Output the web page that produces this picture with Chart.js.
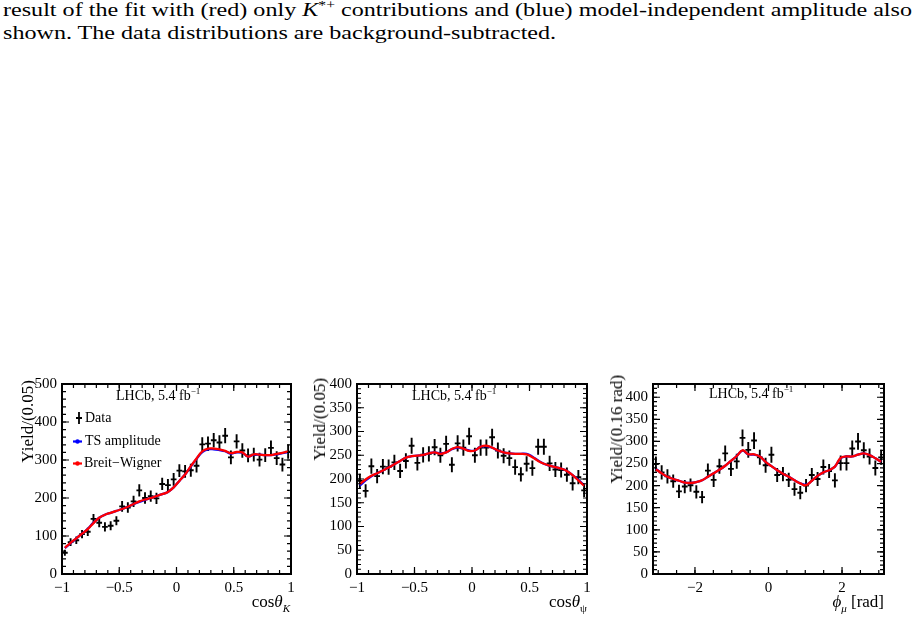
<!DOCTYPE html>
<html><head><meta charset="utf-8">
<script src="https://cdn.jsdelivr.net/npm/chart.js@4.4.1/dist/chart.umd.min.js"></script>
<style>
html,body{margin:0;padding:0;background:#fff;}
body{width:914px;height:621px;position:relative;overflow:hidden;font-family:"Liberation Serif","Times New Roman",serif;color:#000;}
.cap{position:absolute;left:3px;white-space:nowrap;font-family:"Liberation Serif",serif;font-weight:normal;font-size:18.5px;line-height:23px;transform-origin:0 0;}
canvas.pan{position:absolute;}
.lbl{position:absolute;white-space:nowrap;font-family:"Liberation Serif",serif;}
.lhcb{font-size:14px;line-height:15px;}
.lhcb sup{font-size:9px;vertical-align:0;position:relative;top:-6px;}
.leg{font-size:14px;line-height:16px;}
.yt{position:absolute;white-space:nowrap;font-family:"Liberation Serif",serif;font-weight:normal;font-size:17px;line-height:20px;writing-mode:vertical-rl;transform:rotate(180deg);}
.xt{position:absolute;white-space:nowrap;font-family:"Liberation Serif",serif;font-size:17px;line-height:20px;text-align:right;}
.xt sub{font-size:11px;vertical-align:0;position:relative;top:5px;}
.cap sup{font-size:12px;vertical-align:0;position:relative;top:-7px;}
</style>
</head>
<body>
<div class="cap" id="cap1" style="top:-1px">result of the fit with (red) only <i>K</i><sup>*+</sup> contributions and (blue) model-independent amplitude also</div>
<div class="cap" id="cap2" style="top:22px">shown. The data distributions are background-subtracted.</div>

<canvas class="pan" id="c1" width="300" height="251" style="left:0px;top:370px"></canvas>
<canvas class="pan" id="c2" width="300" height="251" style="left:300px;top:370px"></canvas>
<canvas class="pan" id="c3" width="314" height="251" style="left:600px;top:370px"></canvas>

<div class="lbl lhcb" style="left:116px;top:388px">LHCb, 5.4 fb<sup>−1</sup></div>
<div class="lbl lhcb" style="left:412px;top:388px">LHCb, 5.4 fb<sup>−1</sup></div>
<div class="lbl lhcb" style="left:709px;top:386px">LHCb, 5.4 fb<sup>−1</sup></div>

<div class="lbl leg" style="left:85px;top:410px">Data</div>
<div class="lbl leg" style="left:85px;top:433px">TS amplitude</div>
<div class="lbl leg" style="left:84px;top:455px">Breit−Wigner</div>

<div class="yt" style="left:18px;top:380px">Yield/(0.05)</div>
<div class="yt" style="left:310px;top:378px">Yield/(0.05)</div>
<div class="yt" style="left:607px;top:375px">Yield/(0.16 rad)</div>

<div class="xt" style="right:624px;top:592px">cos<i>θ</i><sub><i>K</i></sub></div>
<div class="xt" style="right:327px;top:592px">cos<i>θ</i><sub>ψ</sub></div>
<div class="xt" style="right:30px;top:592px"><i>ϕ</i><sub><i>μ</i></sub> [rad]</div>

<script>
// ---- bins (bin centres) ----
const cosBins = [-0.975,-0.925,-0.875,-0.825,-0.775,-0.725,-0.675,-0.625,-0.575,-0.525,-0.475,-0.425,-0.375,-0.325,-0.275,-0.225,-0.175,-0.125,-0.075,-0.025,0.025,0.075,0.125,0.175,0.225,0.275,0.325,0.375,0.425,0.475,0.525,0.575,0.625,0.675,0.725,0.775,0.825,0.875,0.925,0.975];
const phiBins = [-3.063,-2.906,-2.749,-2.592,-2.435,-2.278,-2.121,-1.963,-1.806,-1.649,-1.492,-1.335,-1.178,-1.021,-0.864,-0.707,-0.550,-0.393,-0.236,-0.079,0.079,0.236,0.393,0.550,0.707,0.864,1.021,1.178,1.335,1.492,1.649,1.806,1.963,2.121,2.278,2.435,2.592,2.749,2.906,3.063];

// ---- cos(theta_K) ----
const dataK = [56,84,89,105,111,145,135,124,127,140,178,175,191,220,200,205,199,237,234,249,272,270,273,285,341,343,352,346,364,307,349,325,312,314,301,313,332,305,288,322];
const errK  = [8,10,10,11,11,13,12,12,12,12,14,14,15,16,15,15,15,16,16,17,17,17,17,18,19,19,19,19,20,18,19,19,18,18,18,18,19,18,18,19];
const bwK   = [69,82,94,106,118,134,148,156,161,166,171,177,184,191,196,200,205,210,216,228,245,262,284,304,323,330,330,328,324,318,321,320,309,315,314,313,313,316,319,322];
const tsK   = [68,81,94,106,119,135,148,156,161,166,171,177,184,190,195,200,205,210,216,228,245,262,283,303,321,328,328,326,323,317,320,319,309,314,314,313,313,315,318,321];

// ---- cos(theta_psi) ----
const dataPsi = [196,175,227,206,226,225,235,217,238,270,234,251,253,267,250,274,230,275,266,290,250,266,266,288,260,249,244,225,210,232,223,268,268,233,220,219,209,191,204,176];
const errPsi  = [15,14,16,15,16,16,16,15,16,17,16,16,16,17,16,17,16,17,17,18,16,17,17,18,17,16,16,16,15,16,16,17,17,16,16,16,15,15,15,14];
const bwPsi   = [189,199,207,212,218,224,231,238,245,248,249,251,254,256,253,256,263,267,264,259,260,268,270,266,260,256,254,253,253,252,246,238,232,228,225,222,217,208,197,186];
const tsPsi   = [186,197,206,212,218,224,231,238,245,248,249,251,254,256,254,256,263,266,264,260,260,268,269,266,260,256,254,253,253,253,247,239,232,228,225,222,217,208,198,187];

// ---- phi_mu ----
const dataPhi = [249,230,221,210,187,198,201,186,174,234,213,244,273,238,255,308,281,302,264,246,270,224,226,213,192,184,200,224,215,242,233,212,251,251,284,300,280,266,240,264];
const errPhi  = [17,16,16,15,15,15,15,15,14,16,16,17,18,16,17,19,18,19,17,17,18,16,16,16,15,15,15,16,16,17,16,16,17,17,18,19,18,18,17,17];
const bwPhi   = [237,228,220,215,211,207,206,208,212,220,228,236,245,256,267,280,271,271,266,254,244,235,227,220,212,205,201,211,222,230,235,243,263,266,266,270,273,269,262,254];
const tsPhi   = [238,228,220,215,211,207,206,208,212,220,228,236,245,256,267,279,271,270,266,254,244,235,227,220,212,205,202,211,222,230,235,243,262,266,266,270,273,269,262,254];

// ---- tick labels ----
const xTicksCos = [-1,-0.5,0,0.5,1];
const xTicksPhi = [-2,0,2];
const yTicksK   = [0,100,200,300,400,500];
const yTicksPsi = [0,50,100,150,200,250,300,350,400];
const yTicksPhi = [0,50,100,150,200,250,300,350,400];

const RED = '#ff0000', BLUE = '#0000ff';

function fmt(v){ return String(v).replace('-', '\u2212'); }
function pts(xs, ys){ return xs.map((x,i)=>({x:x, y:ys[i]})); }
function errPts(xs, ys, es){ return xs.map((x,i)=>({x:x, y:ys[i], e:es[i]})); }

const rootPlugin = {
  id: 'rootFrame',
  beforeDatasetsDraw(chart, args, o){
    const {ctx, chartArea:a, scales:{x, y}} = chart;
    ctx.save();
    ctx.beginPath(); ctx.rect(a.left, a.top, a.right-a.left, a.bottom-a.top); ctx.clip();
    ctx.strokeStyle = '#000'; ctx.lineWidth = 1.9; ctx.lineCap = 'butt';
    chart.data.datasets.forEach(ds => {
      if (!ds.errorBars) return;
      ds.data.forEach(p => {
        const px = x.getPixelForValue(p.x), py = y.getPixelForValue(p.y);
        ctx.beginPath();
        ctx.moveTo(px, y.getPixelForValue(p.y - p.e));
        ctx.lineTo(px, y.getPixelForValue(p.y + p.e));
        ctx.moveTo(x.getPixelForValue(p.x - o.halfBin), py);
        ctx.lineTo(x.getPixelForValue(p.x + o.halfBin), py);
        ctx.stroke();
      });
    });
    ctx.restore();
  },
  afterDraw(chart, args, o){
    const {ctx, chartArea:a, scales:{x, y}} = chart;
    ctx.save();
    ctx.strokeStyle = '#000';
    ctx.lineWidth = 1.2;
    const MAJ = 7, MIN = 4;
    const drawX = (v, len) => {
      const px = x.getPixelForValue(v);
      ctx.beginPath();
      ctx.moveTo(px, a.bottom); ctx.lineTo(px, a.bottom - len);
      ctx.moveTo(px, a.top); ctx.lineTo(px, a.top + len);
      ctx.stroke();
    };
    const drawY = (v, len) => {
      const py = y.getPixelForValue(v);
      ctx.beginPath();
      ctx.moveTo(a.left, py); ctx.lineTo(a.left + len, py);
      ctx.moveTo(a.right, py); ctx.lineTo(a.right - len, py);
      ctx.stroke();
    };
    for (let v = Math.ceil(x.min/o.xMinor - 1e-9)*o.xMinor; v <= x.max + 1e-9; v += o.xMinor) drawX(v, MIN);
    o.xMajor.forEach(v => drawX(v, MAJ));
    for (let v = 0; v <= y.max + 1e-9; v += o.yMinor) drawY(v, MIN);
    o.yMajor.forEach(v => drawY(v, MAJ));
    ctx.lineWidth = 2;
    ctx.strokeRect(a.left, a.top, a.right - a.left, a.bottom - a.top);
    if (o.legend) {
      const L = o.legend;
      ctx.lineWidth = 1.8;
      ctx.beginPath();
      ctx.moveTo(L.cx, L.dataY - 6); ctx.lineTo(L.cx, L.dataY + 6);
      ctx.moveTo(L.cx - 3, L.dataY); ctx.lineTo(L.cx + 3, L.dataY);
      ctx.stroke();
      [[BLUE, L.tsY],[RED, L.bwY]].forEach(([c, yy]) => {
        ctx.strokeStyle = c; ctx.fillStyle = c; ctx.lineWidth = 2.2;
        ctx.beginPath(); ctx.moveTo(L.lx0, yy); ctx.lineTo(L.lx1, yy); ctx.stroke();
        ctx.beginPath(); ctx.arc((L.lx0+L.lx1)/2, yy, 2.2, 0, Math.PI*2); ctx.fill();
      });
    }
    ctx.restore();
  }
};

function makeChart(id, cfg){
  const tickFont = {family:'Liberation Serif', size:15};
  return new Chart(document.getElementById(id), {
    type: 'line',
    data: { datasets: [
      {label:'Breit\u2212Wigner', data: pts(cfg.bins, cfg.bw), borderColor: RED, borderWidth: 2.3, pointRadius: 0, tension: 0.4, fill:false},
      {label:'TS amplitude', data: pts(cfg.bins, cfg.ts), borderColor: BLUE, borderWidth: 2.3, pointRadius: 0, tension: 0.4, fill:false},
      {type:'scatter', label:'Data', data: errPts(cfg.bins, cfg.data, cfg.err), errorBars:true, pointRadius:0, showLine:false}
    ]},
    options: {
      responsive:false, animation:false, devicePixelRatio:1,
      layout:{padding: cfg.pad},
      plugins:{legend:{display:false}, tooltip:{enabled:false},
        rootFrame:{halfBin: cfg.halfBin, xMajor: cfg.xTicks, xMinor: cfg.xMinor, yMajor: cfg.yTicks, yMinor: cfg.yMinor, legend: cfg.legend || null}},
      scales:{
        x:{type:'linear', min: cfg.xMin, max: cfg.xMax,
           grid:{display:false, drawTicks:false}, border:{display:false},
           ticks:{font: tickFont, color:'#000', padding: 5, maxRotation:0, autoSkip:false, callback: v => fmt(v)},
           afterBuildTicks: s => { s.ticks = cfg.xTicks.map(v => ({value:v})); },
           afterFit: s => { s.height = cfg.xH; }},
        y:{type:'linear', min: 0, max: cfg.yMax,
           grid:{display:false, drawTicks:false}, border:{display:false},
           ticks:{font: tickFont, color:'#000', padding: 5, autoSkip:false, callback: v => fmt(v)},
           afterBuildTicks: s => { s.ticks = cfg.yTicks.map(v => ({value:v})); },
           afterFit: s => { s.width = cfg.yW; }}
      }
    },
    plugins:[rootPlugin]
  });
}

makeChart('c1', {bins: cosBins, data: dataK, err: errK, bw: bwK, ts: tsK, halfBin: 0.025,
  xMin:-1, xMax:1, xTicks: xTicksCos, xMinor: 0.1, yMax: 500, yTicks: yTicksK, yMinor: 20,
  pad:{left:0, top:10, right:9, bottom:0}, yW: 62, xH: 47,
  legend:{cx:79, dataY:48, tsY:71.5, bwY:93.5, lx0:73, lx1:82}});
makeChart('c2', {bins: cosBins, data: dataPsi, err: errPsi, bw: bwPsi, ts: tsPsi, halfBin: 0.025,
  xMin:-1, xMax:1, xTicks: xTicksCos, xMinor: 0.1, yMax: 400, yTicks: yTicksPsi, yMinor: 10,
  pad:{left:0, top:10, right:13, bottom:0}, yW: 57, xH: 47});
makeChart('c3', {bins: phiBins, data: dataPhi, err: errPhi, bw: bwPhi, ts: tsPhi, halfBin: 0.0785,
  xMin:-Math.PI, xMax:Math.PI, xTicks: xTicksPhi, xMinor: 0.5, yMax: 430, yTicks: yTicksPhi, yMinor: 10,
  pad:{left:0, top:7, right:30, bottom:0}, yW: 53, xH: 47});

(function(){
  const c1 = document.getElementById('cap1'), c2 = document.getElementById('cap2');
  const w = c1.getBoundingClientRect().width;
  const s = 909 / w;
  c1.style.transform = 'scaleX(' + s + ')';
  c2.style.transform = 'scaleX(' + s + ')';
})();
</script>
</body></html>
